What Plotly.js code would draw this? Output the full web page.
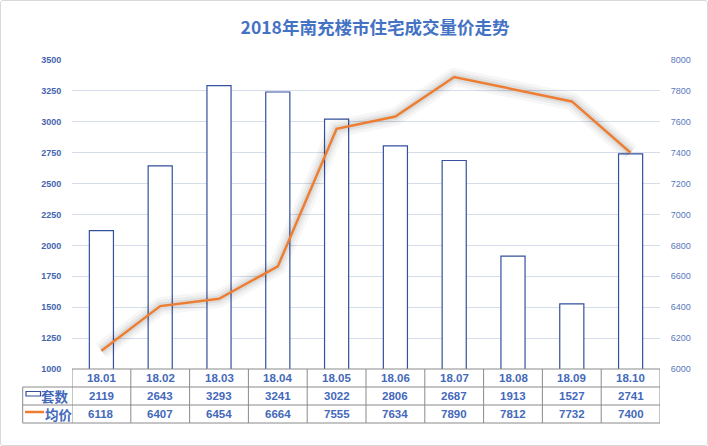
<!DOCTYPE html>
<html><head><meta charset="utf-8">
<script src="https://cdn.plot.ly/plotly-3.0.1.min.js"></script>
<style>
html,body{margin:0;padding:0;background:#fff;}
#wrap{position:relative;width:708px;height:446px;}
#chart{width:708px;height:446px;}
#frame{position:absolute;left:0;top:0;width:706px;height:444px;border:1px solid #d9d9d9;border-radius:3px;pointer-events:none;}
</style></head>
<body><div id="wrap"><div id="chart"></div><div id="frame"></div></div>
<script>
const months = ['18.01','18.02','18.03','18.04','18.05','18.06','18.07','18.08','18.09','18.10'];
const units = [2119,2643,3293,3241,3022,2806,2687,1913,1527,2741];
const avgPrice = [6118,6407,6454,6664,7555,7634,7890,7812,7732,7400];
const seriesNames = ['套数','均价'];
const leftTicks = [1000,1250,1500,1750,2000,2250,2500,2750,3000,3250,3500];
const rightTicks = [6000,6200,6400,6600,6800,7000,7200,7400,7600,7800,8000];
const titleText = '2018年南充楼市住宅成交量价走势';

// layout geometry (pixels)
const W=708,H=446, L=72, R=660, T=60, B=369;
const rowY=[369,387,405,423], legL=22.7;
const pw=R-L, ph=B-T;
const px2x = p => (p-L)/pw;
const py2y = p => (B-p)/ph;

const blue='#4469BA', barLine='#34509E', orange='#ED7D31', grid='#D5DCEA', tline='#8a8a8a';
const numFont={family:'Liberation Sans, Arial',size:11.5,color:blue,weight:'bold'};

const shadow=(w,a)=>({type:'scatter',mode:'lines',x:months,y:avgPrice,yaxis:'y2',line:{color:'rgba(0,0,0,'+a+')',width:w},hoverinfo:'skip',showlegend:false});
const traces=[
 {type:'bar',x:months,y:units,name:seriesNames[0],width:0.41,
  marker:{color:'#ffffff',line:{color:barLine,width:1.2}},yaxis:'y',hoverinfo:'skip'},
 shadow(18,0.035), shadow(12,0.045), shadow(7,0.06),
 {type:'scatter',mode:'lines',x:months,y:avgPrice,name:seriesNames[1],yaxis:'y2',line:{color:orange,width:2.5},hoverinfo:'skip'}
];

const shapes=[], ann=[];
const hl=(x0,x1,y)=>shapes.push({type:'line',xref:'paper',yref:'paper',x0:x0,x1:x1,y0:py2y(y),y1:py2y(y),line:{color:tline,width:1}});
hl(0,1,rowY[0]);
for(let i=1;i<4;i++) hl(px2x(legL),1,rowY[i]);
shapes.push({type:'line',xref:'paper',yref:'paper',x0:px2x(legL),x1:px2x(legL),y0:py2y(rowY[1]),y1:py2y(rowY[3]),line:{color:tline,width:1}});
for(let i=0;i<=months.length;i++){
  shapes.push({type:'line',xref:'x',yref:'paper',x0:i-0.5,x1:i-0.5,y0:py2y(rowY[0]),y1:py2y(rowY[3]),line:{color:tline,width:1}});
}
shapes.push({type:'rect',xref:'paper',yref:'paper',x0:px2x(26),x1:px2x(40.5),y0:py2y(396),y1:py2y(391.5),line:{color:barLine,width:1.2},fillcolor:'#fff'});
shapes.push({type:'line',xref:'paper',yref:'paper',x0:px2x(25),x1:px2x(44),y0:py2y(412),y1:py2y(412),line:{color:orange,width:2.5}});
const cjkFont={family:'Noto Sans CJK SC',size:13.5,color:blue,weight:'bold'};
ann.push({xref:'paper',yref:'paper',x:px2x(54.5),y:py2y(395.5),text:seriesNames[0],showarrow:false,font:cjkFont,xanchor:'center',yanchor:'middle'});
ann.push({xref:'paper',yref:'paper',x:px2x(58.5),y:py2y(414),text:seriesNames[1],showarrow:false,font:cjkFont,xanchor:'center',yanchor:'middle'});
const rowsText=[months,units,avgPrice];
const rowMid=[377.5,395.5,414];
rowsText.forEach((row,r)=>row.forEach((v,i)=>{
  ann.push({xref:'x',yref:'paper',x:i,y:py2y(rowMid[r]),text:String(v),showarrow:false,font:numFont,xanchor:'center',yanchor:'middle'});
}));

const layout={
 width:W,height:H,margin:{l:L,r:W-R,t:T,b:H-B,pad:0},
 paper_bgcolor:'#fff',plot_bgcolor:'#fff',showlegend:false,bargap:0,
 title:{text:titleText,x:375/W,xref:'container',y:1-28/H,yref:'container',xanchor:'center',yanchor:'middle',
   font:{family:'Noto Sans CJK SC',size:17.5,color:'#4472C4',weight:'bold'}},
 xaxis:{type:'category',range:[-0.5,months.length-0.5],showticklabels:false,showgrid:false,zeroline:false,showline:false,ticks:''},
 yaxis:{range:[1000,3500],tickvals:leftTicks,showgrid:true,gridcolor:grid,gridwidth:1,zeroline:false,showline:false,
   ticks:'outside',ticklen:8,tickcolor:'rgba(0,0,0,0)',tickfont:{family:'Liberation Sans, Arial',size:9,color:'#4466B0',weight:'bold'}},
 yaxis2:{range:[6000,8000],tickvals:rightTicks,overlaying:'y',side:'right',showgrid:false,zeroline:false,showline:false,
   ticks:'outside',ticklen:8,tickcolor:'rgba(0,0,0,0)',tickfont:{family:'Liberation Sans, Arial',size:9,color:'#5a78bd'}},
 shapes:shapes,annotations:ann
};
Plotly.newPlot('chart',traces,layout,{displayModeBar:false,staticPlot:true});
</script></body></html>
